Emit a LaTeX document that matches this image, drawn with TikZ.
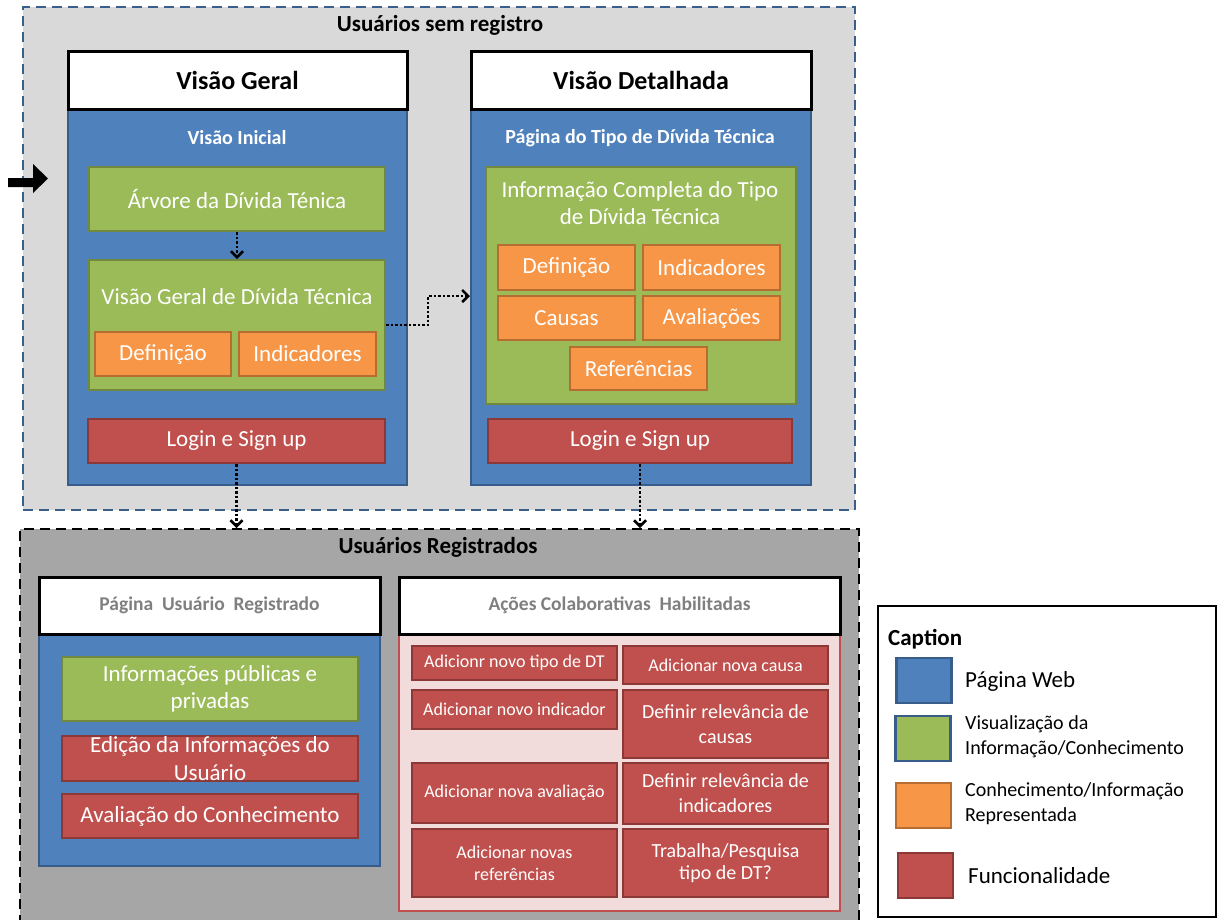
\documentclass[tikz,border=0pt]{standalone}
\usepackage{fontspec}
\setmainfont{Carlito}
\usetikzlibrary{arrows.meta,calc}
\definecolor{bfill}{HTML}{4F81BD}
\definecolor{bline}{HTML}{385D8A}
\definecolor{gfill}{HTML}{9BBB59}
\definecolor{gline}{HTML}{71893F}
\definecolor{ofill}{HTML}{F79646}
\definecolor{oline}{HTML}{B66D31}
\definecolor{rfill}{HTML}{C0504D}
\definecolor{rline}{HTML}{8C3836}
\definecolor{lgray}{HTML}{D9D9D9}
\definecolor{dgray}{HTML}{A6A6A6}
\definecolor{pinkf}{HTML}{F2DCDB}
\definecolor{dashblue}{HTML}{3A5F8B}
\definecolor{txtgray}{HTML}{7F7F7F}
\tikzset{
  base/.style={draw, inner sep=0pt, align=center},
  pagebox/.style={base, fill=bfill, draw=bline, line width=2pt},
  infobox/.style={base, fill=gfill, draw=gline, line width=2pt, text=white, font=\fontsize{23}{27}\selectfont},
  knowbox/.style={base, fill=ofill, draw=oline, line width=2pt, text=white, font=\fontsize{23}{26}\selectfont},
  funcbox/.style={base, fill=rfill, draw=rline, line width=2pt, text=white, font=\fontsize{23}{26}\selectfont},
  smallfunc/.style={funcbox, font=\fontsize{18}{22}\selectfont},
  midfunc/.style={funcbox, font=\fontsize{20}{24}\selectfont},
  headbox/.style={base, fill=white, draw=black, line width=3pt, font=\bfseries\fontsize{26}{30}\selectfont},
  subhead/.style={base, fill=white, draw=black, line width=3pt, text=txtgray, font=\bfseries\fontsize{19.5}{22}\selectfont},
  subtitle/.style={text=white, font=\bfseries\fontsize{20}{22}\selectfont},
  grouptitle/.style={font=\bfseries\fontsize{23}{26}\selectfont},
  dotarrow/.style={line width=2.5pt, dash pattern=on 2.5pt off 2pt, -{Straight Barb[length=6pt,width=12pt,line width=2.5pt]}},
  swatch/.style={draw, line width=2.5pt, minimum width=55pt, minimum height=45pt, inner sep=0pt},
  legtext/.style={anchor=west, align=left, inner sep=0pt},
}
\begin{document}
\begin{tikzpicture}[x=1pt,y=-1pt]
\useasboundingbox (0,0) rectangle (1217,919);
% top group
\node[draw=dashblue, fill=lgray, line width=2pt, dash pattern=on 10pt off 6pt, minimum width=832pt, minimum height=503pt, inner sep=0pt] (top) at (439,258.5) {};
\node[grouptitle] (toptitle) at (440,25) {Usuários sem registro};
% entry arrow
\fill (8,178) -- (33,178) -- (33,164) -- (48,178.5) -- (33,193) -- (33,187) -- (8,187) -- cycle;
% Visao Geral
\node[pagebox, minimum width=339pt, minimum height=376pt] (vgbody) at (237.5,297) {};
\node[headbox, minimum width=339pt, minimum height=58pt] (vghead) at (237.5,80) {Visão Geral};
\node[subtitle] (vgsub) at (237,138) {Visão Inicial};
\node[infobox, minimum width=296pt, minimum height=64pt] (arvore) at (237,199) {Árvore da Dívida Ténica};
\node[infobox, minimum width=296pt, minimum height=130pt] (vggreen) at (237,325) {};
\node[text=white, font=\fontsize{23}{26}\selectfont] (vgtext) at (237,297) {Visão Geral de Dívida Técnica};
\node[knowbox, minimum width=136pt, minimum height=44pt] (def1) at (163,354) {Definição};
\node[knowbox, minimum width=137pt, minimum height=44pt] (ind1) at (307.5,354) {Indicadores};
\node[funcbox, minimum width=297pt, minimum height=44pt] (login1) at (236.5,441) {Login e Sign up};
% Visao Detalhada
\node[pagebox, minimum width=340pt, minimum height=376pt] (vdbody) at (641,297) {};
\node[headbox, minimum width=340pt, minimum height=58pt] (vdhead) at (641,80) {Visão Detalhada};
\node[subtitle] (vdsub) at (640,138) {Página do Tipo de Dívida Técnica};
\node[infobox, minimum width=310pt, minimum height=237pt] (vdgreen) at (641,285.5) {};
\node[text=white, align=center, font=\fontsize{23}{27}\selectfont] (vdtext) at (640,203.5) {Informação Completa do Tipo\\de Dívida Técnica};
\node[knowbox, minimum width=137pt, minimum height=45pt] (def2) at (566.5,267.5) {Definição};
\node[knowbox, minimum width=137pt, minimum height=45pt] (ind2) at (711.5,267.5) {Indicadores};
\node[knowbox, minimum width=137pt, minimum height=44pt] (cau2) at (566.5,318) {Causas};
\node[knowbox, minimum width=137pt, minimum height=44pt] (ava2) at (711.5,318) {Avaliações};
\node[knowbox, minimum width=137pt, minimum height=43pt] (ref2) at (638.5,368.5) {Referências};
\node[funcbox, minimum width=304pt, minimum height=44pt] (login2) at (640,441) {Login e Sign up};
% bottom group
\node[draw=black, fill=dgray, line width=2pt, dash pattern=on 10pt off 6pt, minimum width=839pt, minimum height=400pt, inner sep=0pt, anchor=north west] (bot) at (19,528) {};
\node[grouptitle] (bottitle) at (438,547) {Usuários Registrados};
% left panel
\node[pagebox, minimum width=341pt, minimum height=232pt] (urbody) at (209.5,750) {};
\node[subhead, minimum width=341pt, minimum height=57pt] (urhead) at (209.5,605.5) {Página\ \ Usuário\ \ Registrado};
\node[infobox, minimum width=296pt, minimum height=64pt] (infpub) at (210,689) {Informações públicas e\\privadas};
\node[funcbox, minimum width=296pt, minimum height=45pt, font=\fontsize{23}{28}\selectfont] (edic) at (210,758.5) {Edição da Informações do\\Usuário};
\node[funcbox, minimum width=296pt, minimum height=44pt] (avcon) at (210,816) {Avaliação do Conhecimento};
% right panel
\node[base, fill=pinkf, draw=rfill, line width=2pt, minimum width=441pt, minimum height=277pt] (acbody) at (619.5,772.5) {};
\node[subhead, minimum width=441pt, minimum height=57pt] (achead) at (619.5,605.5) {Ações\ Colaborativas\ \ Habilitadas};
\node[smallfunc, minimum width=205pt, minimum height=34pt] (a1) at (514.5,663) {Adicionr novo tipo de DT};
\node[smallfunc, minimum width=205pt, minimum height=38pt] (b1) at (725.5,665) {Adicionar nova causa};
\node[smallfunc, minimum width=205pt, minimum height=39pt] (a2) at (514.5,709.5) {Adicionar novo indicador};
\node[midfunc, minimum width=205pt, minimum height=68pt, font=\fontsize{20}{25}\selectfont] (b2) at (725.5,724) {Definir relevância de\\causas};
\node[smallfunc, minimum width=205pt, minimum height=60pt] (a3) at (514.5,793) {Adicionar nova avaliação};
\node[midfunc, minimum width=205pt, minimum height=61pt, font=\fontsize{20}{25}\selectfont] (b3) at (725.5,793.5) {Definir relevância de\\indicadores};
\node[smallfunc, minimum width=205pt, minimum height=68pt] (a4) at (514.5,863) {Adicionar novas\\referências};
\node[midfunc, minimum width=205pt, minimum height=68pt, font=\fontsize{20}{22}\selectfont] (b4) at (725.5,863) {Trabalha/Pesquisa\\tipo de DT?};
% caption
\node[draw=black, line width=2pt, minimum width=338pt, minimum height=311pt, inner sep=0pt] (cap) at (1047,761.5) {};
\node[anchor=west, inner sep=0pt, font=\bfseries\fontsize{23}{26}\selectfont] (captitle) at (888,639) {Caption};
\node[swatch, fill=bfill, draw=bline] (sw1) at (924,680.5) {};
\node[swatch, fill=gfill, draw=bline] (sw2) at (923,738.5) {};
\node[swatch, fill=ofill, draw=oline] (sw3) at (923.5,805.5) {};
\node[swatch, fill=rfill, draw=rline] (sw4) at (925.5,875.5) {};
\node[legtext, font=\fontsize{23}{26}\selectfont] (l1) at (965,681) {Página Web};
\node[legtext, font=\fontsize{20}{25}\selectfont] (l2) at (965,737) {Visualização da\\Informação/Conhecimento};
\node[legtext, font=\fontsize{20}{25}\selectfont] (l3) at (965,803.5) {Conhecimento/Informação\\Representada};
\node[legtext, font=\fontsize{23}{26}\selectfont] (l4) at (968,876) {Funcionalidade};
% connectors
\draw[dotarrow] (arvore.south) -- (vggreen.north);
\coordinate (bend) at (428,325);
\draw[dotarrow] (vggreen.east |- bend) -- (bend) -- (428,296) -- (vdbody.west |- 0,296);
\draw[dotarrow] (login1.south) -- (login1.south |- bot.north);
\draw[dotarrow] (login2.south) -- (login2.south |- bot.north);
\end{tikzpicture}
\end{document}
